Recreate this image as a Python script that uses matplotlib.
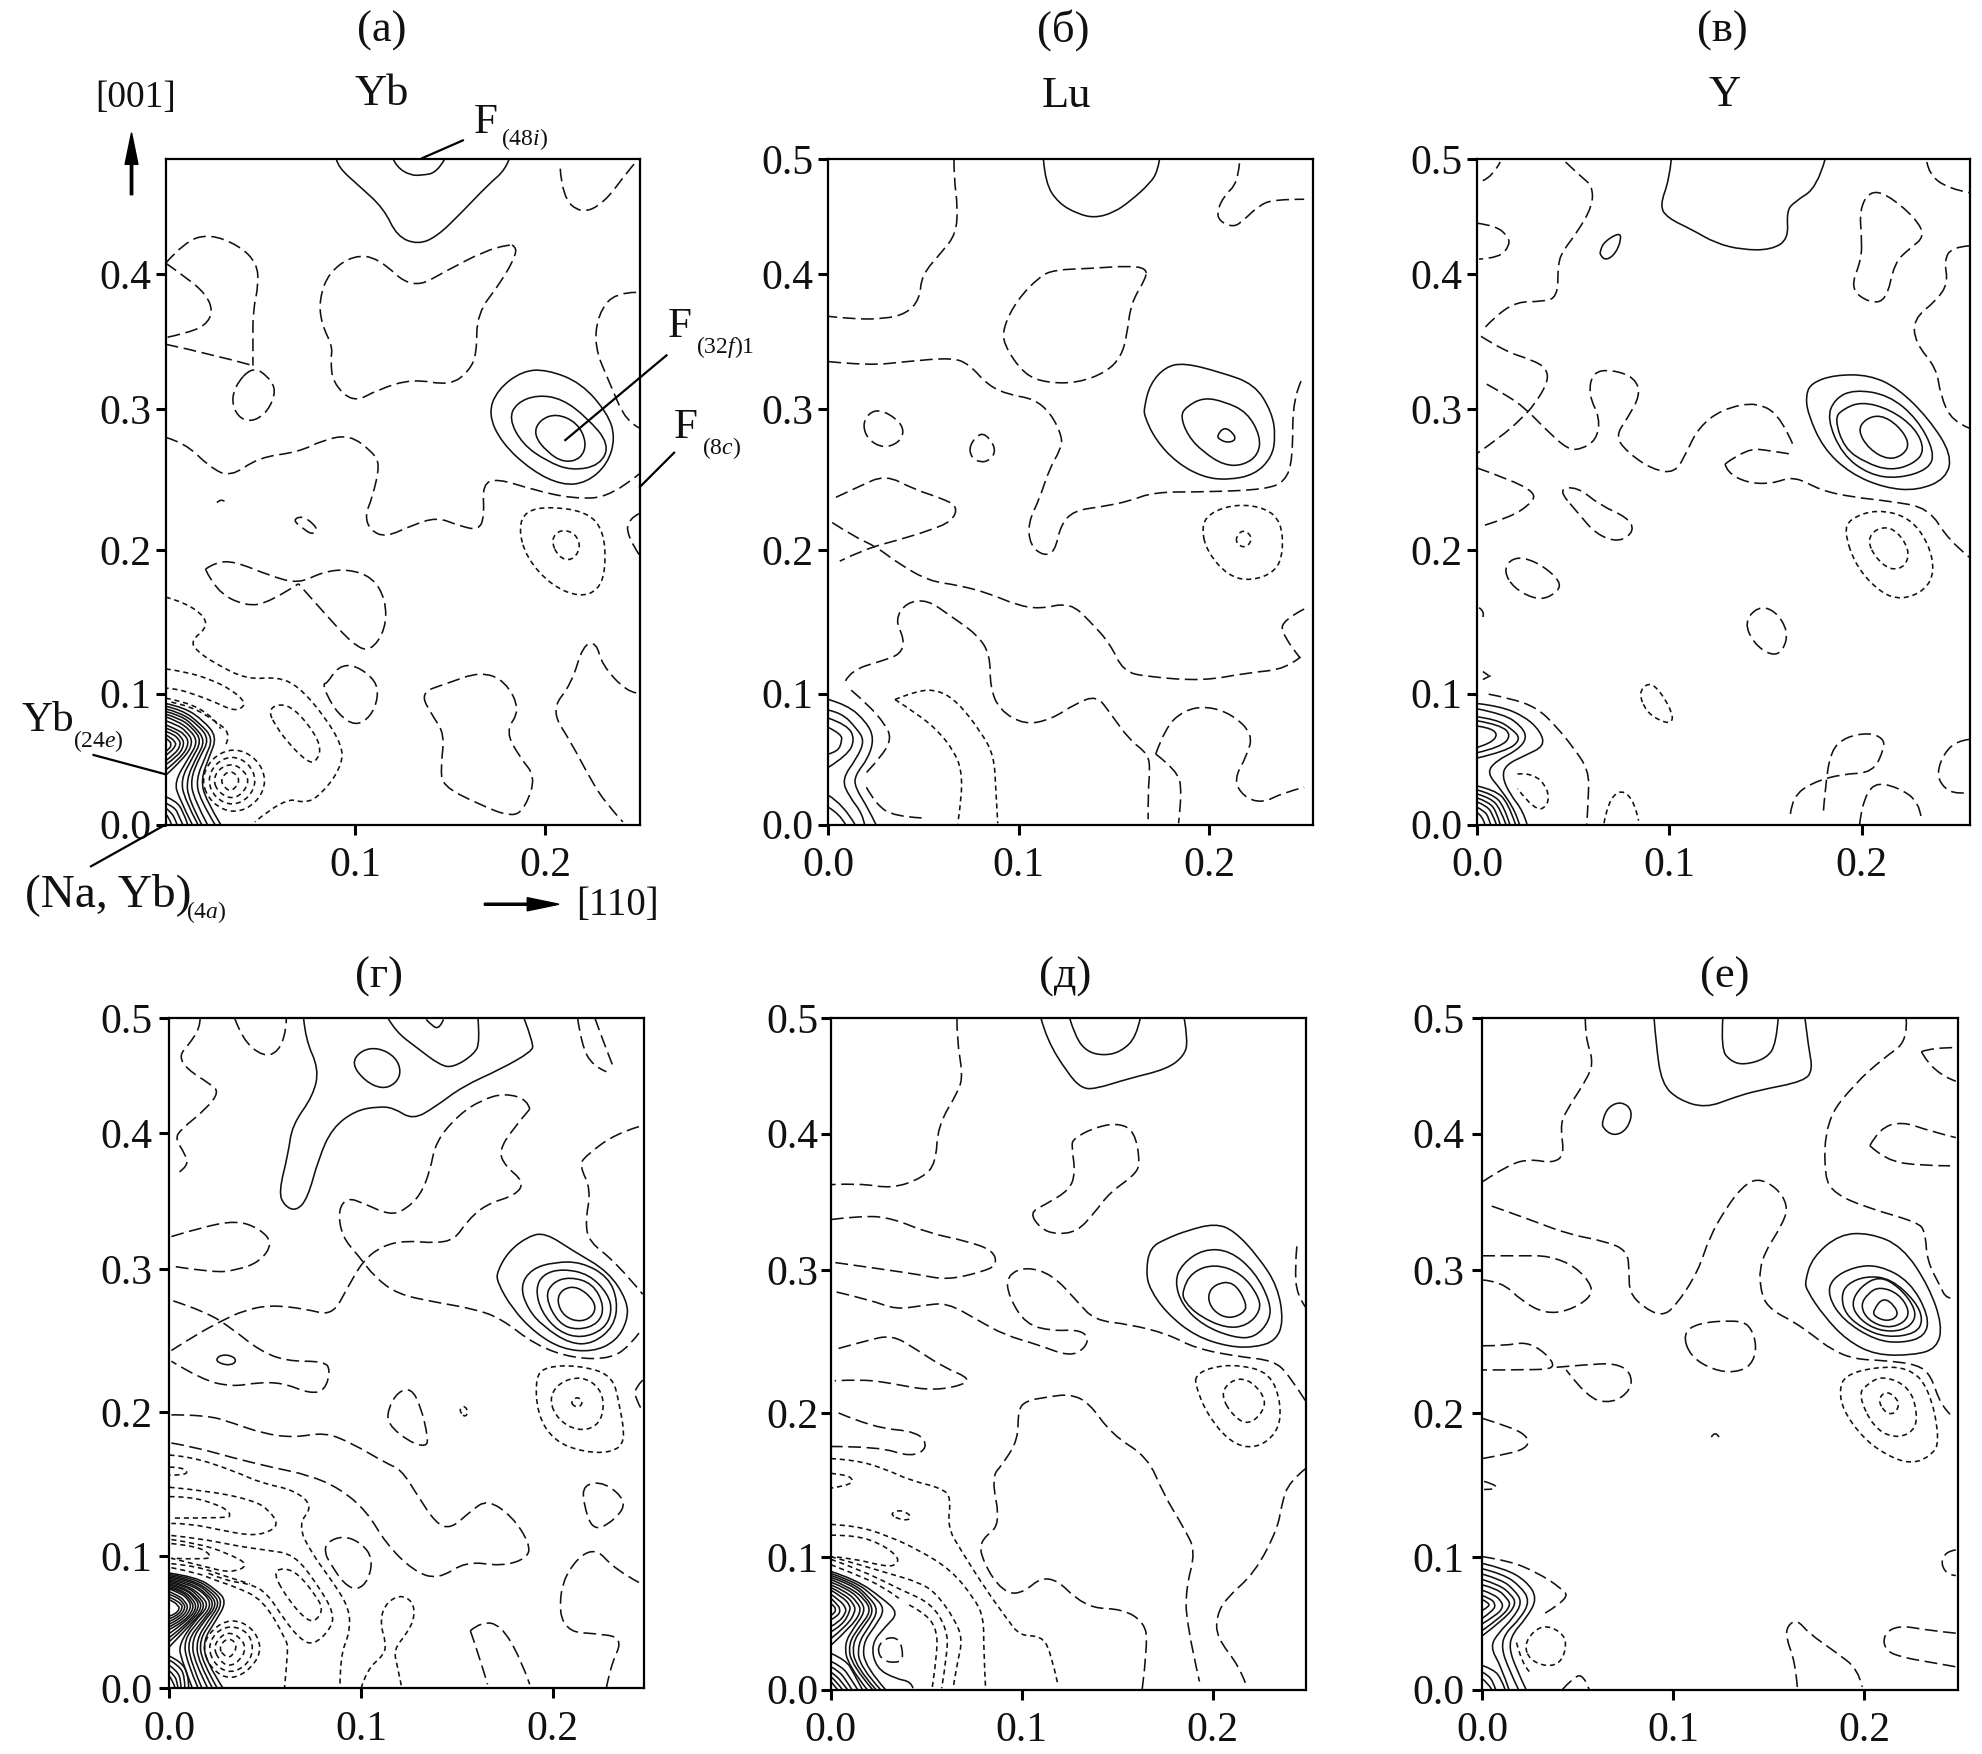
#!/usr/bin/env python3

import numpy as np
import matplotlib
matplotlib.use("Agg")
import matplotlib.pyplot as plt
from matplotlib.lines import Line2D
from matplotlib.patches import PathPatch, FancyArrow
from matplotlib.path import Path

plt.rcParams["font.family"] = ["Liberation Serif", "DejaVu Serif"]
plt.rcParams["mathtext.fontset"] = "custom"
plt.rcParams["mathtext.rm"] = "Liberation Serif"
plt.rcParams["mathtext.it"] = "Liberation Serif:italic"

# Contours, (x, y) in thousandths of the lattice unit.

a_solid = [
    [(90,500),(91,494),(102,480),(115,463),(122,442),(133,436),(143,442),(156,460),(170,481),(179,492),(181,500)],
    [(120,500),(122,494),(129,488),(135,488),(143,490),(147,500)],
    [(170,309),(175,327),(188,341),(201,342),(219,332),(233,309),(237,291),(233,271),(222,257),(209,255),(193,266),(177,287),(170,309)],
    [(181,305),(185,317),(196,323),(209,320),(222,306),(234,286),(229,270),(214,266),(201,273),(188,286),(181,305)],
    [(194,293),(197,304),(206,309),(217,302),(222,287),(219,275),(210,272),(201,280),(194,293)],
    [(0,91),(10,88),(20,78),(27,66),(23,51),(18.6,34),(21,19),(29,0)],
    [(0,89),(9,86),(18,76),(25,65),(21,51),(16,34),(18,19),(26,0)],
    [(0,87),(8,84),(17,75),(23,64),(18,51),(13,34),(15,19),(22,0)],
    [(0,85),(8,82),(15,74),(21,63),(16,50),(11,34),(12,19),(19,0)],
    [(0,83),(7,80),(14,73),(19,63),(14,50),(8,34),(10,19),(17,0)],
    [(0,81),(6,78),(13,71),(17,62),(12,50),(4.6,32),(7,20),(14,0)],
    [(0,78),(6,75),(11,70),(14.6,62),(10,50),(0,37)],
    [(0,75),(5,72),(10,68),(12.5,61),(8,50),(0,41)],
    [(0,72.5),(5,70),(8,66),(10,61),(7,52),(0,45)],
    [(0,70),(4,68),(7,64),(8,60),(5,53),(0,48)],
    [(0,67.5),(3,65),(5,62),(5.5,60),(3,55),(0,52)],
    [(0,65),(2,63),(3,60),(2,57),(0,55)],
    [(0,21),(5,18),(9,11),(11.6,0)],
    [(0,16),(5,13),(7,6),(9,0)],
    [(0,12.5),(3,9),(5,4),(6,0)],
    [(0,8),(2,5),(3,0)],
]
a_dash = [
    [(0,422),(10,438),(23,444),(39,435),(48,422),(49,406),(46,386),(46,363),(46,345)],
    [(46,345),(56,334),(58,323),(52,307),(42,302),(35,313),(36,329),(46,345)],
    [(0,361),(23,354),(46,345)],
    [(0,422),(11,411),(21,399),(25,386),(21,375),(10,369),(0,366)],
    [(184,435),(185,429),(177,408),(164,384),(164,354),(160,341),(150,330),(130,335),(112,327),(99,317),(88,332),(87,350),(88,359),(82,377),(81,395),(86,415),(99,428),(112,426),(130,402),(149,417),(168,431),(181,436),(184,435)],
    [(248,400),(237,400),(228,384),(226,359),(234,332),(243,302),(250,298)],
    [(208,493),(209,472),(219,459),(231,467),(243,490),(249,500)],
    [(0,291),(10,287),(23,269),(34,261),(49,276),(70,280),(83,289),(97,293),(109,280),(113,271),(109,246),(105,232),(108,221),(116,216),(130,225),(143,231),(154,225),(165,221),(168,232),(167,256),(175,260),(193,252),(214,245),(235,246),(250,264)],
    [(27,242),(29,245),(31,243)],
    [(67,229),(72,232),(78,226),(80,221),(77,218),(72,223),(67,229)],
    [(250,234),(244,230),(243,217),(250,202)],
    [(21,192),(26,197),(36,198),(55,187),(70,181),(83,190),(96,192),(109,186),(116,169),(116,147),(108,130),(99,135),(83,160),(70,181)],
    [(21,192),(26,176),(42,164),(55,167),(70,181)],
    [(85,106),(91,119),(100,120),(111,108),(112,95),(108,81),(100,74),(91,83),(85,97),(83,106),(85,106)],
    [(134,99),(148,106),(166,115),(179,108),(187,86),(179,70),(187,50),(195,36),(190,14),(183,5),(164,16),(146,29),(145,43),(147,68),(141,81),(134,99)],
    [(248,99),(243,100),(230,120),(227,137),(220,135),(214,106),(203,86),(214,61),(224,34),(232,16),(241,2)],
]
a_short = [
    [(0,171),(10,167),(21,156),(21,147),(14,139),(15,132),(26,121),(43,109),(59,111),(70,104),(84,81),(93,59),(93,46),(86,29),(75,15),(63,21),(47,2)],
    [(0,117),(10,115),(24,109),(35,101),(42,92),(40,87),(35,86),(26,92),(16,97.5),(4.6,102.5),(0,102.5)],
    [(0,95),(8,93),(20,86),(28,75),(29,72)],
    [(3,92),(13,89),(25,79),(35,68),(31,58)],
    [(54,86),(60,91),(68,87),(78.5,69),(82,56),(79,47),(75,47),(66,59),(58,74),(54,86)],
    [(186,223),(190,236),(203,239),(222,235),(231,221),(232,192),(228,176),(218,171),(203,180),(190,201),(186,223)],
    [(203,214),(208,222),(216,219),(219,208),(214,198),(207,201),(203,214)],
    [(18.6,33),(24,50),(36,58),(48,50),(53.5,33),(48,16),(36,8),(24,16),(18.6,33)],
    [(22,33),(26,46),(35,52),(44,46),(48,33),(44,20),(35,14),(26,20),(22,33)],
    [(25,33),(28,42),(35,46),(41,41),(44,33),(41,24),(35,19),(28,24),(25,33)],
    [(29,33),(31,38),(34,40),(37,38),(39,33),(37,28),(34,25),(31,28),(29,33)],
]

b_solid = [
    [(113,500),(114,482),(121,467),(131,459),(140,456),(150,460),(159,469),(169,482),(173,491),(174,500)],
    [(166,314),(169,331),(177,344),(187,347),(206,340),(224,331),(233,310),(235,292),(233,276),(224,263),(210,259),(197,261),(183,272),(172,289),(166,307),(166,314)],
    [(185,307),(188,314),(197,321),(208,318),(220,310),(227,292),(226,278),(218,270),(208,270),(197,280),(189,292),(185,307)],
    [(204,292),(208,299),(213,294),(214,289),(210,287),(206,289),(204,292)],
    [(0,94),(10,90),(20,77),(24,65),(21,50),(14,37),(14,28),(21,12),(25,0)],
    [(0,86),(7,84),(15,72),(19,63),(15,50),(7,34),(11,21),(18,8),(19,0)],
    [(0,80),(10,75),(14,64),(10,52),(0,43)],
    [(0,73),(7,68),(7,62),(5,55),(0,53)],
    [(0,22),(8,15),(14,0)],
    [(0,13),(6,8),(9,0)],
]
b_dash = [
    [(66,500),(66,486),(68,464),(67,444),(60,431),(49,413),(48,395),(41,384),(29,380),(12,380),(0,382)],
    [(0,348),(21,345),(41,348),(65,351),(74,346),(84,330),(95,323),(108,320),(117,309),(123,291),(122,282),(116,267),(111,245),(105,227),(106,210),(113,202),(119,205),(122,225),(129,236),(144,239),(158,243),(171,250),(200,250),(230,252),(240,258),(244,274),(244,322),(249,335)],
    [(167,418),(158,420),(138,418),(119,417),(111,412),(99,394),(92,374),(92,361),(103,338),(115,332),(131,332),(146,340),(154,352),(157,369),(159,392),(167,411),(167,418)],
    [(216,497),(215,482),(208,473),(204,460),(206,453),(213,449),(218,454),(226,465),(234,470),(250,470)],
    [(18,300),(21,309),(27,312),(36,305),(40,296),(37,287),(29,283),(21,289),(18,300)],
    [(74,285),(80,295),(85,290),(88,281),(85,274),(80,272),(75,276),(74,285)],
    [(4,246),(16,254),(30,263),(45,252),(60,245),(68,239),(65,228),(53,221),(37,214),(19,207),(6,198)],
    [(2,227),(14,216),(25,209),(37,196),(53,183),(68,180),(84,174),(99,165),(111,162),(127,167),(138,152),(148,136),(155,115),(168,111),(197,108),(220,114),(241,117),(248,126)],
    [(250,162),(239,154),(238,143),(248,125)],
    [(9,108),(12,116),(28,123),(38,128),(40,139),(35,154),(41,167),(52,169),(64,157),(78,143),(85,128),(85,103),(90,86),(103,75),(117,79),(130,91),(141,97),(148,84),(158,64),(168,53),(169,41),(168,26),(168,4)],
    [(172,53),(183,41),(186,26),(184,1)],
    [(172,53),(177,73),(187,86),(199,89),(212,83),(223,68),(220,52),(213,34),(218,21),(228,16),(239,24),(250,28)],
    [(12,101),(21,90),(30,75),(33,65),(29,53),(20,39)],
    [(20,28),(25,15),(35,6),(49,5)],
]
b_short = [
    [(196,223),(200,234),(214,241),(230,238),(238,227),(239,205),(235,190),(222,183),(210,187),(199,205),(196,223)],
    [(214,216),(218,222),(223,216),(220,208),(215,210),(214,216)],
    [(35,94),(47,101),(58,101),(68,92),(80,70),(87,52),(88,26),(89,1)],
    [(35,94),(47,83),(58,70),(66,55),(70,41),(70,19),(68,1)],
]

c_solid = [
    [(101,500),(100,485),(95,465),(99,456),(112,447),(124,437),(138,432),(153,432),(162,440),(161,461),(165,468),(177,479),(181,500)],
    [(64,431),(66,438),(74,445),(75,440),(72,429),(67,424),(64,428),(64,431)],
    [(171,323),(174,332),(186,338),(204,338),(219,328),(235,305),(247,278),(244,260),(229,251),(212,253),(194,264),(180,283),(172,309),(171,323)],
    [(182,305),(186,320),(196,327),(214,323),(229,305),(238,280),(235,267),(219,260),(204,263),(190,278),(182,305)],
    [(186,305),(190,312),(200,318),(215,312),(228,298),(233,281),(227,271),(215,266),(202,272),(191,283),(186,305)],
    [(198,296),(202,305),(210,308),(219,300),(225,287),(222,278),(214,274),(204,282),(198,296)],
    [(0,91),(12,89),(25,81),(33,70),(35,59),(25,52),(15,45),(13,36),(17,23),(24,10),(26,0)],
    [(0,87),(14,83),(23,74),(26,65),(21,56),(10,48),(5,39),(12,27),(20,10),(22,0)],
    [(0,81),(10,79),(18,72),(23,64),(15,55),(0,50)],
    [(0,78),(12,75),(18,67),(12,58),(0,54)],
    [(0,74),(6,73),(11,68),(7,61),(0,58)],
    [(0,29),(9,26),(16,17),(20,0)],
    [(0,26),(8,23),(14,14),(17,0)],
    [(0,23),(7,20),(12,12),(15,0)],
    [(0,20),(6,17),(10,10),(12,0)],
    [(0,17),(5,14),(8,8),(10,0)],
    [(0,13),(4,10),(6,5),(7,0)],
    [(0,9),(3,6),(4,0)],
]
c_dash = [
    [(3,484),(8,487),(12,498)],
    [(0,452),(10,450),(16,442),(17,436),(12,426),(1,425)],
    [(46,498),(54,487),(60,480),(60,465),(52,445),(45,432),(42,422),(42,396),(33,393),(21,393),(10,383),(3,372)],
    [(2,367),(14,356),(29,349),(36,343),(37,333),(30,316),(23,305),(12,291),(0,279)],
    [(5,331),(15,323),(25,313),(35,298),(47,282),(54,282),(62,289),(64,305),(58,323),(60,340),(70,342),(82,336),(85,323),(78,305),(72,292),(78,280),(91,267),(103,264),(109,280),(115,298),(127,312),(146,318),(159,305),(165,283)],
    [(129,271),(140,283),(153,281),(165,278)],
    [(129,271),(130,265),(140,257),(153,256),(165,262),(179,251),(196,246),(215,243),(235,238),(245,214),(256,201)],
    [(0,268),(16,260),(31,249),(27,240),(17,231),(4,225)],
    [(42,252),(52,254),(64,240),(78,231),(82,221),(74,212),(62,218),(52,235),(42,252)],
    [(14,190),(17,199),(24,201),(35,194),(45,180),(37,170),(29,170),(19,178),(14,190)],
    [(1,163),(4,160),(3,156)],
    [(139,152),(146,164),(155,161),(162,145),(159,130),(153,127),(144,136),(139,152)],
    [(3,115),(6,112)],
    [(3,109),(7,112)],
    [(6,98),(17,95),(31,88),(41,74),(50,58),(58,41),(58,21),(57,0)],
    [(234,498),(235,489),(245,478),(256,475)],
    [(200,442),(199,462),(204,476),(213,474),(228,456),(233,442),(225,433),(217,422),(213,394),(204,392),(194,403),(200,425),(200,442)],
    [(256,435),(247,434),(243,424),(245,407),(239,394),(227,380),(228,362),(239,343),(241,323),(247,303),(256,298)],
    [(256,64),(250,63),(243,54),(239,38),(243,27),(250,23),(256,24)],
    [(163,8),(164,21),(175,32),(190,38),(206,39),(212,58),(211,65),(204,69),(192,66),(184,56),(181,27),(180,7)],
    [(199,0),(200,14),(206,32),(219,28),(230,17),(231,5)],
]
c_short = [
    [(84,99),(89,107),(95,101),(102,83),(101,76),(95,78),(88,85),(84,99)],
    [(21,38),(29,39),(37,27),(37,14),(30,10),(21,27)],
    [(66,1),(68,17),(75,27),(82,17),(84,3)],
    [(191,220),(194,230),(208,237),(225,231),(235,211),(238,190),(233,176),(221,169),(210,174),(197,194),(191,220)],
    [(203,214),(208,223),(217,223),(225,207),(223,194),(215,191),(207,201),(203,214)],
]

d_solid = [
    [(70,500),(71,484),(78,462),(75,442),(64,420),(62,399),(57,370),(60,360),(66,356),(72,365),(78,396),(85,418),(97,431),(109,434),(117,433),(127,424),(139,434),(153,449),(173,462),(189,475),(190,481),(185,500)],
    [(114,500),(118,490),(129,478),(141,465),(148,463),(159,473),(162,482),(161,500)],
    [(134,499),(137,494),(141,492),(143,499)],
    [(95,466),(100,476),(109,478),(118,471),(121,460),(118,451),(111,447),(102,453),(95,466)],
    [(24,245),(27,249),(33,248),(35,244),(32,241),(27,242),(24,245)],
    [(171,311),(177,326),(187,337),(196,340),(211,326),(229,311),(239,289),(239,274),(233,259),(221,251),(205,253),(191,265),(179,283),(171,303),(171,311)],
    [(183,300),(189,313),(201,318),(215,318),(229,307),(234,289),(232,270),(221,257),(209,257),(195,270),(187,283),(183,300)],
    [(191,298),(195,309),(205,313),(219,309),(229,294),(231,281),(227,268),(215,261),(203,266),(194,281),(191,298)],
    [(196,292),(200,303),(209,307),(221,302),(227,285),(224,272),(213,267),(203,272),(196,292)],
    [(202,289),(205,298),(213,300),(222,289),(222,279),(215,273),(206,277),(202,289)],
    [(0,86),(14,83),(24,74),(30,65),(24,50),(17.7,36),(19,20),(28,0)],
    [(0,85),(13,82),(23,73),(28,64),(22,50),(15.6,36),(17,20),(25,0)],
    [(0,84),(12,81),(22,72),(26.5,63),(20,50),(14,36),(15,20),(22.5,0)],
    [(0,83),(12,80),(21,71),(25,62),(18,50),(11.6,36),(13,20),(20,0)],
    [(0,82),(11,79),(20,70),(23.5,62),(17,50),(9.5,36),(11,20),(17,0)],
    [(0,81),(10,78),(19,70),(22,61),(15,50),(7.5,36),(9,20),(15,0)],
    [(0,80),(9,77),(17,69),(20.5,61),(13,50),(5,33),(6,22),(12,0)],
    [(0,79),(9,76),(15,69),(19,61),(12,49),(0,31)],
    [(0,78),(8,75),(14,68),(17.5,61),(11,49),(0,35)],
    [(0,77),(8,74),(13,68),(16,61),(10,49),(0,38)],
    [(0,76),(7,73),(12,67),(14.5,60),(9,50),(0,41)],
    [(0,75),(7,72),(11,66),(13,60),(8,50),(0,44)],
    [(0,74),(6,71),(10,66),(11.5,60),(7,51),(0,46)],
    [(0,72),(5,69),(8,65),(10,60),(6,52),(0,48)],
    [(0,70),(4,68),(7,64),(8.5,60),(5,53),(0,50)],
    [(0,68),(3,66),(6,63),(7,60),(4,54),(0,52)],
    [(0,66),(3,64),(4,62),(5.5,60),(3,55),(0,54)],
    [(0,24),(6,20),(10,10),(10,0)],
    [(0,21),(5,17),(8,9),(8,0)],
    [(0,17),(4,13),(6,6),(6,0)],
    [(0,13),(3,9),(4,4),(4.5,0)],
    [(0,9),(2,5),(3,0)],
]
d_dash = [
    [(16,500),(16,493),(10,480),(5,472),(9,462),(21,451),(26,445),(19,432),(6,417),(3,410),(8,399),(10,390),(5,385)],
    [(34,500),(38,484),(49,471),(57,475),(61,491),(61,500)],
    [(213,500),(215,480),(221,464),(228,460)],
    [(222,500),(226,484),(232,462)],
    [(188,432),(187,439),(175,444),(163,439),(151,428),(139,408),(136,386),(131,368),(123,357),(115,353),(101,362),(93,366),(88,357),(90,337),(99,322),(107,307),(119,294),(139,288),(159,283),(173,276),(191,256),(211,246),(231,246),(241,257),(245,265)],
    [(188,432),(179,417),(172,401),(175,390),(185,378),(181,368),(165,361),(155,348),(149,335),(139,332),(123,334),(111,330),(101,319),(93,299),(85,278),(71,283),(53,286),(39,282),(27,274),(13,263),(1,252)],
    [(1,337),(17,344),(35,349),(47,343),(54,332),(47,318),(35,312),(23,310),(1,315)],
    [(245,419),(233,414),(217,397),(214,390),(220,372),(217,348),(219,333),(233,318),(247,294)],
    [(2,289),(19,281),(33,268),(47,252),(61,244),(81,244),(84,237),(81,222),(73,220),(59,228),(45,228),(33,225),(17,230),(1,244)],
    [(1,204),(19,204),(33,198),(49,190),(65,187),(81,191),(95,183),(113,168),(121,163),(129,145),(139,123),(147,119),(157,132),(166,141),(179,128),(188,108),(187,97),(173,91),(155,95),(140,81),(127,88),(113,108),(103,132),(89,149),(73,159),(53,165),(33,172),(13,180),(1,183)],
    [(157,43),(163,50),(173,47),(183,23),(188,3)],
    [(157,43),(161,27),(166,3)],
    [(228,0),(230,16),(237,38),(221,41),(209,42),(203,56),(206,86),(221,107),(233,88),(245,79)],
    [(216,152),(227,154),(239,139),(232,125),(221,117),(216,138),(216,152)],
    [(247,230),(243,224),(243,217),(246,209)],
    [(114,208),(119,221),(126,224),(131,211),(135,187),(134,180),(125,184),(114,197),(114,208)],
    [(81,101),(82,109),(91,114),(100.5,108),(106,97),(104,81),(98,73),(91,78),(84,93),(81,101)],
]
d_short = [
    [(191,233),(197,240),(213,241),(231,234),(235,211),(238,184),(231,176),(217,176),(201,184),(192,204),(191,233)],
    [(198,215),(203,228),(215,233),(225,224),(227,208),(223,195),(213,192),(203,200),(198,215)],
    [(209,213),(213,218),(216,213),(213,209),(209,213)],
    [(151,208),(154,211),(156,206),(154,202),(151,208)],
    [(0,174),(11,173),(34,162),(48,153),(65,148),(75,136),(67,122),(74,101),(86,78),(94,59),(94,41),(89,24),(89,0)],
    [(0,165),(6,165),(10,161),(6,159),(0,159)],
    [(0,150),(22,147),(44,140),(52,133),(57,122),(51,116),(42,114),(27,118),(10,123),(1,123)],
    [(0,143),(11,143),(25,137),(30,133),(32,129),(30,127),(1,127)],
    [(1,114),(15,112),(36,106),(51,103),(65,100),(77,78),(86,56),(84,44),(75,32),(68,37),(60,51),(51,71),(42,78),(30,80),(20,86)],
    [(54,86),(59,90),(67,86),(77,68),(80,59),(77,51),(72,50),(62,66),(54,86)],
    [(1,111),(15,108),(30,101),(42,92),(32,86),(18,91),(1,97)],
    [(1,108),(15,106),(22,99),(20,96),(1,97)],
    [(1,93),(15,91),(30,83),(42,78)],
    [(1,90),(15,86),(23,81),(34,76),(49,66),(61,36),(62,29),(60,0)],
    [(17,30),(22,44),(32,52),(43,46),(48.5,30),(43,15),(32,6),(22,14),(17,30)],
    [(20,30),(24,42),(32,47),(41,42),(44,30),(41,18),(32,11),(24,17),(20,30)],
    [(23,30),(26,38),(31,42),(37,38),(40,30),(37,21),(31,16),(26,21),(23,30)],
    [(26,30),(28,35),(31,37),(34,35),(35,30),(33,25),(31,23),(28,25),(26,30)],
    [(100,0),(103,14),(112,25),(113,34),(110,48),(112,62),(120,70),(127,65),(128,53),(124,41),(117,29),(119,16),(121,2)],
]

e_solid = [
    [(110,500),(113,484),(124,459),(131,448),(138,447),(156,455),(176,462),(185,472),(187,483),(185,500)],
    [(125,500),(128,486),(134,475),(143,472),(152,475),(160,486),(162,500)],
    [(165,311),(167,329),(176,336),(187,342),(201,347),(211,342),(224,322),(234,300),(237,274),(233,260),(223,255),(209,255),(191,263),(176,280),(167,298),(165,311)],
    [(180,304),(184,317),(195,328),(209,327),(222,311),(230,289),(230,275),(222,262),(211,262),(195,271),(184,286),(180,304)],
    [(184,297),(189,311),(201,317),(215,310),(224,293),(225,282),(218,271),(207,269),(193,278),(185,289),(184,297)],
    [(197,293),(201,302),(211,304),(218,287),(216,280),(208,276),(200,282),(197,293)],
    [(0,88),(13,82),(27,68),(35.5,57),(28.6,47),(21,34),(23.6,16),(34,8),(42,6),(43,1)],
    [(0,86.5),(13,80),(22,70),(28.6,60),(23,47),(16.5,34),(18,17),(28.6,0)],
    [(0,85),(12,79),(20,69),(25,59),(20,47),(14,34),(15,17),(26,0)],
    [(0,83.5),(11,78),(19,68),(22.6,58),(17,47),(11,34),(13,17),(23.6,0)],
    [(0,82),(10,76),(18,67),(21,58),(15,47),(9,34),(11,18),(21.8,0)],
    [(0,80),(9,75),(16,66),(18,58),(12,46),(7,34),(9,18),(19,0)],
    [(0,78),(8,73),(14,65),(16,58),(10,46),(0,33)],
    [(0,76),(7,71),(12,64),(13,58),(8,47),(0,38)],
    [(0,74),(6,69),(10,63),(10,58),(6,48),(0,43)],
    [(0,71),(5,66),(7.8,61),(7.8,57),(4,50),(0,47)],
    [(0,68),(3,64),(5,60),(4,55),(0,52)],
    [(0,64),(2,62),(2.5,59),(1.7,57),(0,55)],
    [(0,27),(8,22),(12,12),(16.5,0)],
    [(0,21),(6,17),(10,9),(14,0)],
    [(0,17),(4,14),(8,7),(11,0)],
    [(0,13),(3,10),(6,5),(8.7,0)],
    [(0,9.5),(3,6),(6,0)],
    [(0,6),(3.5,0)],
]
e_dash = [
    [(66,500),(66,484),(69,458),(67,446),(56,420),(55,392),(48,381),(32,373),(15,377),(0,376)],
    [(0,350),(17,353),(32,351),(51,340),(71,334),(85,327),(87,316),(79,311),(61,305),(46,309),(27,313),(2,318)],
    [(3,296),(21,290),(34,283),(48,286),(61,288),(77,275),(91,264),(108,257),(125,248),(133,254),(135,263),(129,268),(116,267),(102,272),(93,293),(92,308),(102,315),(116,309),(129,289),(138,275),(156,272),(176,265),(191,254),(213,248),(232,245),(240,234),(249,214)],
    [(4,254),(19,260),(32,264),(44,254),(59,240),(74,231),(65,225),(50,223),(32,228),(17,231),(2,230)],
    [(4,206),(22,195),(46,192),(51,180),(42,173),(25,181),(0,181)],
    [(249,165),(240,155),(236,138),(234,120),(222,87),(207,68),(202,55),(202,39),(214,17),(217,5)],
    [(163,0),(166,35),(164,50),(153,60),(133,61),(114,88),(98,69),(87,77),(78,101),(79,112),(89,123),(84,158),(90,168),(98,186),(98,208),(102,215),(114,218),(125,220),(135,214),(147,190),(166,173),(174,146),(185,120),(191,103),(186,76),(186,50),(193,6)],
    [(104,355),(112,361),(125,372),(128,385),(126,405),(127,410),(137,418),(150,422),(159,416),(162,392),(159,383),(146,370),(138,355),(129,341),(118,339),(110,343),(104,355)],
    [(244,330),(243,315),(244,293),(249,284)],
    [(24,31),(29,39),(36,38),(38,25),(36,20),(27,21),(24,31)],
]
e_short = [
    [(191,234),(199,240),(213,242),(230,236),(236,212),(234,191),(222,179),(209,184),(197,205),(191,226),(191,234)],
    [(204,219),(209,230),(218,232),(227,219),(227,208),(219,197),(211,203),(204,219)],
    [(0,172),(13,171),(29,164),(41,156),(58,150),(63,143),(61,121),(68,104),(80,77),(92,53),(99,40),(110,40),(115,29),(119,3)],
    [(0,161),(8,160),(12,156),(9,152),(0,150)],
    [(31,131),(36,134),(42,130),(41,126),(35,127),(31,131)],
    [(0,123),(13,122),(29,115),(46,104),(63,89),(75,68),(80,54),(80,29),(81,1)],
    [(0,115),(13,115),(27,108),(35,99),(35,94),(30,91),(11,98),(0,99)],
    [(0,99),(15,93),(29,87),(46,80),(55,72),(65,52),(69,37),(66,19),(64,1)],
    [(0,97),(16,89),(37,74),(53,64),(61,44),(61,27),(58,1)],
    [(41,63),(48,58),(55,47),(56,29),(53,1)],
    [(0,93),(11,87),(27,77),(35.6,68)],
]

f_solid = [
    [(90,500),(91,481),(94,451),(103,439),(117,433),(132,441),(144,446),(169,453),(173,462),(171,477),(169,500)],
    [(126,500),(125,477),(130,468),(137,465),(149,470),(154,481),(155,500)],
    [(63,424),(66,434),(73,438),(79,431),(76,417),(69,412),(63,418),(63,424)],
    [(169,304),(173,322),(187,339),(203,340),(220,330),(234,300),(241,271),(238,254),(226,249),(206,249),(191,260),(179,278),(170,297),(169,304)],
    [(181,293),(183,306),(195,315),(208,316),(224,304),(234,278),(232,263),(220,258),(206,260),(189,275),(181,293)],
    [(188,293),(191,302),(201,308),(214,306),(227,289),(231,275),(227,265),(212,262),(199,269),(190,280),(188,293)],
    [(193,287),(198,300),(208,308),(218,300),(226,286),(227,275),(220,267),(208,267),(198,275),(193,287)],
    [(198,286),(202,295),(208,300),(218,295),(224,282),(221,273),(212,269),(202,275),(198,286)],
    [(205,283),(210,292),(216,286),(218,278),(212,274),(205,278),(205,283)],
    [(0,94),(12,90),(23,81),(29,68),(23,53),(16,42),(14,31),(18,15),(23,0)],
    [(0,90),(11,86),(20,77),(25,66),(20,53),(12,42),(10,31),(14,15),(19,0)],
    [(0,86),(10,82),(17,74),(21,65),(16,53),(9,43),(4,32),(10,17),(14,0)],
    [(0,82),(9,78),(15,71),(18,64),(12,53),(0,40)],
    [(0,78),(8,75),(13,68),(15,63),(10,54),(0,44)],
    [(0,74),(6,71),(10,66),(11,61),(7,55),(0,49)],
    [(0,70),(4,68),(7,64),(6,59),(0,53)],
    [(0,67),(3,65),(4,62),(0,59)],
    [(0,18),(6,15),(10,8),(12,0)],
    [(0,13),(3,11),(6,5),(7,0)],
    [(0,8),(3,5),(5,0)],
]
f_dash = [
    [(54,500),(54,486),(58,469),(56,457),(43,429),(41,418),(43,398),(37,392),(25,395),(14,391),(0,378)],
    [(222,500),(223,483),(210,470),(195,451),(180,424),(179,381),(185,369),(201,359),(228,348),(232,341),(233,319),(240,300),(243,291),(248,291)],
    [(230,475),(236,478),(248,478)],
    [(230,475),(236,459),(248,453)],
    [(203,405),(208,418),(220,423),(234,416),(248,411)],
    [(203,405),(211,394),(230,390),(245,390)],
    [(5,360),(25,350),(45,339),(64,334),(76,327),(77,311),(77,296),(84,285),(94,278),(101,285),(113,311),(119,337),(128,359),(136,374),(144,381),(154,374),(160,361),(158,348),(145,319),(146,293),(152,282),(163,274),(173,264),(183,253),(195,246),(211,245),(228,242),(235,234),(240,212),(245,205)],
    [(0,323),(21,323),(35,323),(49,315),(58,300),(56,291),(45,282),(33,280),(21,289),(10,304),(0,305)],
    [(0,256),(12,256),(23,259),(33,251),(39,239),(25,238),(0,238)],
    [(39,240),(55,242),(70,243),(78,236),(78,223),(68,213),(55,217),(44,238)],
    [(105,265),(113,273),(132,275),(140,272),(144,256),(141,241),(132,236),(121,238),(109,248),(105,265)],
    [(0,202),(16,195),(24,188),(24,181),(16,176),(0,172)],
    [(1,155),(6,153),(8,150),(4,149),(1,149)],
    [(120,188),(122,193),(124,188)],
    [(0,99),(14,96),(29,87),(41,76),(46,68),(33,57)],
    [(248,104),(243,103),(240,94),(244,85),(248,85)],
    [(165,2),(164,20),(159,39),(160,48),(165,52),(171,42),(185,28),(197,15),(199,2)],
    [(248,42),(234,44),(218,48),(210,41),(211,29),(220,24),(236,20),(248,17)],
    [(42,0),(47,8),(53,12),(56,0)],
]
f_short = [
    [(187,223),(190,234),(205,240),(223,240),(234,225),(240,184),(234,173),(224,168),(211,175),(199,188),(189,208),(187,223)],
    [(197,219),(201,227),(210,234),(224,225),(228,205),(226,192),(216,187),(205,195),(197,219)],
    [(207,216),(212,223),(219,214),(216,205),(211,206),(207,216)],
    [(22,33),(27,44),(34,48),(43,41),(44,31),(41,20),(34,17),(25,22),(22,33)],
    [(18,35),(21,18),(25,13)],
]

panel_curves = [
    (a_solid, a_dash, a_short),
    (b_solid, b_dash, b_short),
    (c_solid, c_dash, c_short),
    (d_solid, d_dash, d_short),
    (e_solid, e_dash, e_short),
    (f_solid, f_dash, f_short),
]
panel_letters = ["(а)", "(б)", "(в)", "(г)", "(д)", "(е)"]
xlims = [0.25, 0.2545, 0.2566, 0.2475, 0.249, 0.249]
x_ticks = [0.0, 0.1, 0.2]
x_tick_labels = ["0.0", "0.1", "0.2"]
# the printed y ticks are not evenly spaced
y_ticks = [0.0, 0.0985, 0.206, 0.3125, 0.414, 0.5]
y_tick_labels = ["0.0", "0.1", "0.2", "0.3", "0.4", "0.5"]

W, H = 1983, 1754
S = 1983 / 1568
# left, right, top, bottom in the 1568 wide view
boxes = [(131, 506, 126, 652), (655, 1038, 126, 652), (1168, 1558, 126, 652),
         (134, 509, 805, 1335), (657, 1033, 805, 1336), (1172, 1548, 805, 1336)]
letter_pos = [(302, 24), (841, 24), (1362, 24), (300, 772), (842, 772), (1364, 772)]
y_pads = [3, 3.5, 3.5, 5, 2, 6]

LINE = {"solid": "-", "dash": (0, (8, 3.5)), "short": (0, (3.2, 2.4))}


def fx(px):
    return px * S / W


def fy(py):
    return 1 - py * S / H


def smooth_path(curve):
    ''' Quadratic path that runs through the midpoints of the read points. '''
    pts = np.array(curve, dtype=float) / 1000
    closed = len(pts) > 3 and np.allclose(pts[0], pts[-1])
    if closed:
        pts = pts[:-1]
        mids = (pts + np.roll(pts, -1, axis=0)) / 2
        verts = [mids[-1]]
        for p, m in zip(pts, mids):
            verts += [p, m]
    else:
        mids = (pts[:-1] + pts[1:]) / 2
        verts = [pts[0]]
        for p, m in zip(pts[1:-1], mids[1:]):
            verts += [p, m]
        verts[-1] = pts[-1]
    codes = [Path.MOVETO] + [Path.CURVE3] * (len(verts) - 1)
    return Path(np.array(verts), codes)


def draw_curves(ax, curves, style):
    for curve in curves:
        if len(curve) < 3:
            ax.plot(*(np.array(curve) / 1000).T, color="#111111", lw=1.15, ls=LINE[style])
            continue
        patch = PathPatch(smooth_path(curve), fill=False, edgecolor="#111111",
                          lw=1.15, ls=LINE[style], capstyle="butt")
        ax.add_patch(patch)


def label(x, y, text, size=31, **kw):
    kw.setdefault("ha", "center")
    kw.setdefault("va", "center")
    fig.text(fx(x), fy(y), text, fontsize=size, color="#111111", **kw)


def leader(x0, y0, x1, y1):
    fig.add_artist(Line2D([fx(x0), fx(x1)], [fy(y0), fy(y1)], color="black", lw=1.6))


fig = plt.figure(figsize=(W / 100, H / 100), dpi=100)

for i, box in enumerate(boxes):
    l, r, t, b = box
    ax = fig.add_axes([fx(l), fy(b), fx(r) - fx(l), fy(t) - fy(b)])
    solid, dash, short = panel_curves[i]
    draw_curves(ax, solid, "solid")
    draw_curves(ax, dash, "dash")
    draw_curves(ax, short, "short")
    ax.set_xlim(0, xlims[i])
    ax.set_ylim(0, 0.5)
    if i == 0:
        ax.set_xticks(x_ticks[1:], x_tick_labels[1:])
        ax.set_yticks(y_ticks[:-1], y_tick_labels[:-1])
    else:
        ax.set_xticks(x_ticks, x_tick_labels)
        ax.set_yticks(y_ticks, y_tick_labels)
    ax.tick_params(labelsize=30, width=2.2, length=7, labelcolor="#111111")
    ax.tick_params(axis="x", pad=9)
    ax.tick_params(axis="y", pad=y_pads[i])
    for side in ax.spines.values():
        side.set_linewidth(1.6)
    label(*letter_pos[i], panel_letters[i], size=32)

# panel titles and the labels on the first panel
label(302, 74, "Yb", size=32)
label(843, 76, "Lu", size=32)
label(1364, 75, "Y", size=32)
label(107, 77, "[001]", size=27)
label(488, 716, "[110]", size=28)

label(375, 97, "F", ha="left")
label(396, 110, r"$\mathrm{(48}\mathit{i}\mathrm{)}$", size=17, ha="left")
label(528, 258, "F", ha="left")
label(550, 274, r"$\mathrm{(32}\mathit{f}\mathrm{)1}$", size=17, ha="left")
label(533, 338, "F", ha="left")
label(555, 354, r"$\mathrm{(8}\mathit{c}\mathrm{)}$", size=17, ha="left")
label(17, 570, "Yb", ha="left")
label(58, 586, r"$\mathrm{(24}\mathit{e}\mathrm{)}$", size=17, ha="left")
label(20, 707, "(Na, Yb)", size=34, ha="left")
label(147, 721, r"$\mathrm{(4}\mathit{a}\mathrm{)}$", size=17, ha="left")

leader(334, 125, 366, 111)
leader(447, 348, 527, 281)
leader(506, 385, 533, 358)
leader(130, 612, 74, 597)
leader(131, 652, 72, 685)

# direction arrows
fig.add_artist(FancyArrow(fx(104), fy(154), 0, fy(105) - fy(154), width=0.0012,
                          head_width=0.0065, head_length=0.018, length_includes_head=True,
                          color="black", transform=fig.transFigure))
fig.add_artist(FancyArrow(fx(383), fy(715), fx(442) - fx(383), 0, width=0.0012,
                          head_width=0.0075, head_length=0.016, length_includes_head=True,
                          color="black", transform=fig.transFigure))

fig.savefig("out.png", dpi=100, facecolor="white")
